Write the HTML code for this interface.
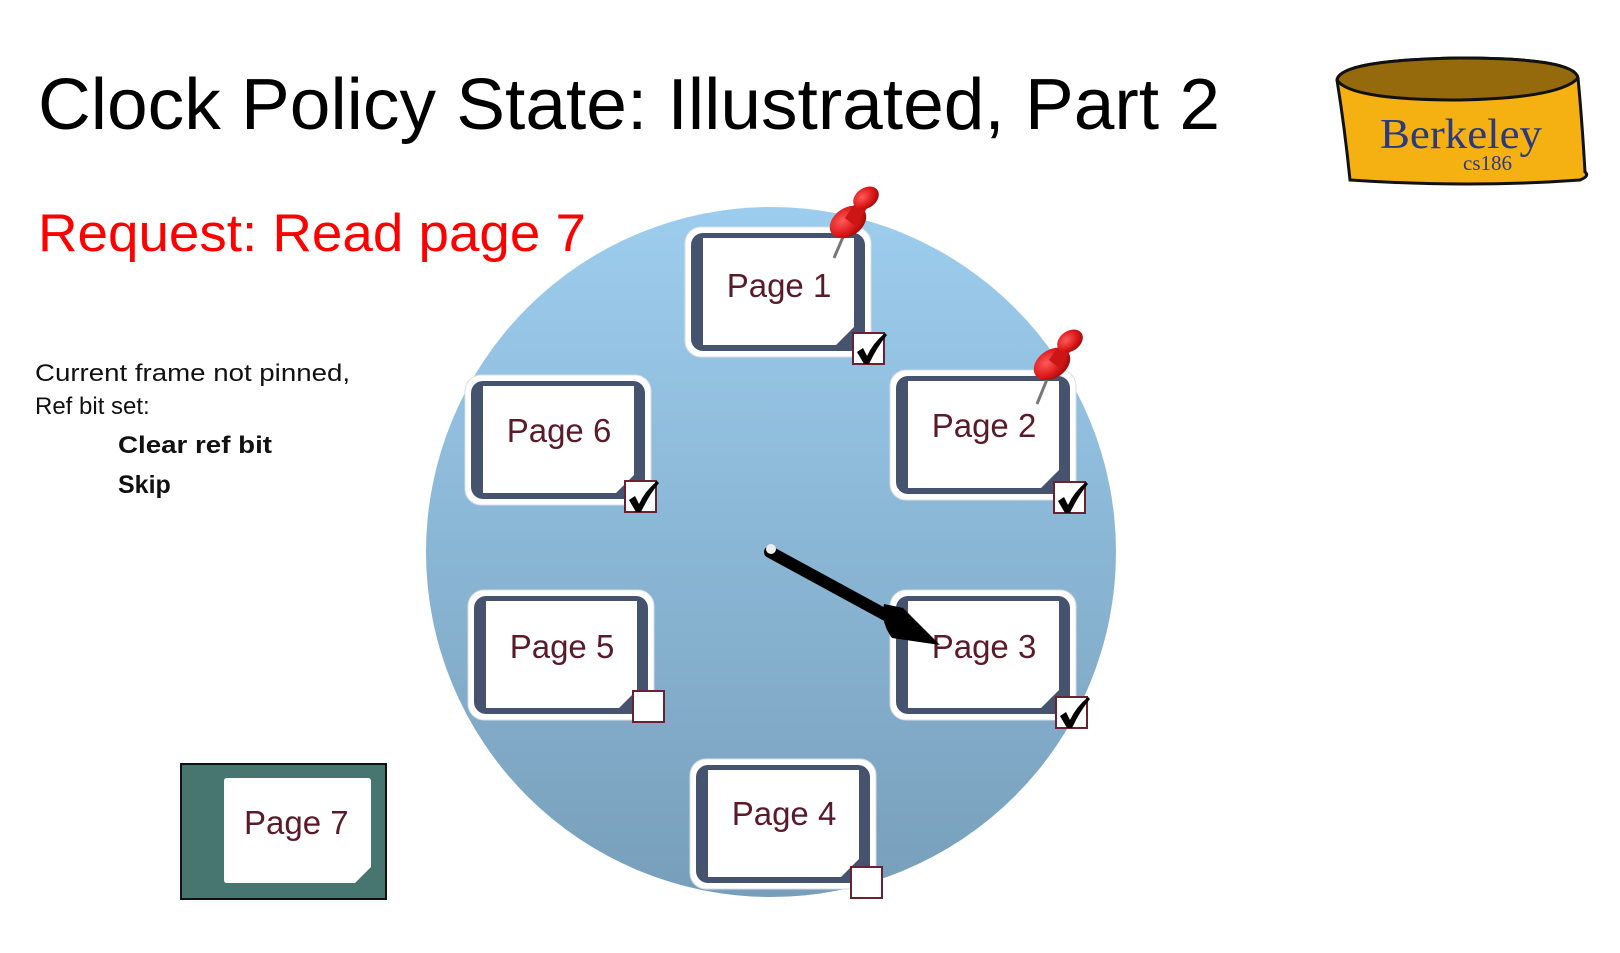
<!DOCTYPE html>
<html><head><meta charset="utf-8"><style>
html,body{margin:0;padding:0;background:#fff;}
svg{display:block;}
</style></head><body>
<svg width="1620" height="953" viewBox="0 0 1620 953" xmlns="http://www.w3.org/2000/svg">
<defs>
<linearGradient id="cg" x1="0" y1="0" x2="0" y2="1">
<stop offset="0" stop-color="#9dcdee"/><stop offset="1" stop-color="#779fbb"/>
</linearGradient>
<radialGradient id="pg" cx="0.4" cy="0.35" r="0.7">
<stop offset="0" stop-color="#ff5a5a"/><stop offset="0.6" stop-color="#dd1a1a"/><stop offset="1" stop-color="#9a0a0a"/>
</radialGradient>
<g id="card">
<rect x="0" y="0" width="186" height="130" rx="16" fill="#fff" stroke="#d8dde4" stroke-width="1"/>
<rect x="6" y="6" width="174" height="118" rx="12" fill="#45536f"/>
<path d="M18 11 H169 V100 L151 118 H18 Z" fill="#fff"/>
</g>
<g id="cbx"><rect x="0" y="0" width="31" height="31" fill="#fff" stroke="#6b2130" stroke-width="2"/></g>
<g id="chk"><path d="M4 17 L10 13 L14 21 Q20 8 32 -2 L34 0 Q24 12 16 29 L11 29 Z" fill="#000"/></g>
</defs>

<text x="38" y="129" font-family="Liberation Sans, sans-serif" font-size="72" fill="#000" textLength="1182" lengthAdjust="spacingAndGlyphs">Clock Policy State: Illustrated, Part 2</text>
<text x="38" y="251" font-family="Liberation Sans, sans-serif" font-size="53" fill="#f00" textLength="548" lengthAdjust="spacingAndGlyphs">Request: Read page 7</text>

<g font-family="Liberation Sans, sans-serif" font-size="24" fill="#111">
<text x="35" y="381" textLength="315" lengthAdjust="spacingAndGlyphs">Current frame not pinned,</text>
<text x="35" y="414">Ref bit set:</text>
<text x="118" y="453" font-weight="bold" textLength="154" lengthAdjust="spacingAndGlyphs">Clear ref bit</text>
<text x="118" y="493" font-weight="bold" font-size="25">Skip</text>
</g>

<!-- logo -->
<g>
<path d="M1337 80 Q1340 60 1460 58 Q1575 58 1578 78 Q1582 120 1585 172 Q1590 176 1580 180 Q1470 188 1350 180 Q1345 130 1337 80 Z" fill="#f5b112" stroke="#111" stroke-width="3"/>
<path d="M1337 80 Q1340 60 1460 58 Q1575 58 1578 78 Q1560 98 1460 100 Q1350 100 1337 80 Z" fill="#956a0c" stroke="#111" stroke-width="3"/>
<text x="1380" y="148" font-family="Liberation Serif, serif" font-size="42" fill="#2b3a80" textLength="162" lengthAdjust="spacingAndGlyphs">Berkeley</text>
<text x="1463" y="170" font-family="Liberation Serif, serif" font-size="21" fill="#2b3a80">cs186</text>
</g>

<circle cx="771" cy="552" r="345" fill="url(#cg)"/>

<g font-family="Liberation Sans, sans-serif" font-size="33" fill="#5a1a2a" text-anchor="middle">
<use href="#card" x="685" y="227"/><text x="779" y="297">Page 1</text>
<use href="#card" x="890" y="370"/><text x="984" y="437">Page 2</text>
<use href="#card" x="465" y="375"/><text x="559" y="442">Page 6</text>
<use href="#card" x="468" y="590"/><text x="562" y="658">Page 5</text>
<use href="#card" x="890" y="590"/><text x="984" y="658">Page 3</text>
<use href="#card" x="690" y="759"/><text x="784" y="825">Page 4</text>
</g>

<use href="#cbx" x="853" y="333"/><use href="#chk" x="853" y="335"/>
<use href="#cbx" x="625" y="481"/><use href="#chk" x="625" y="483"/>
<use href="#cbx" x="1054" y="482"/><use href="#chk" x="1054" y="484"/>
<use href="#cbx" x="1056" y="697"/><use href="#chk" x="1056" y="699"/>
<use href="#cbx" x="633" y="691"/>
<use href="#cbx" x="851" y="867"/>

<!-- pins -->
<g>
<line x1="846" y1="230" x2="834" y2="258" stroke="#777" stroke-width="3"/>
<ellipse cx="848" cy="222" rx="20" ry="14" transform="rotate(-35 848 222)" fill="url(#pg)"/>
<path d="M845 218 L860 196 L870 204 L855 226 Z" fill="#cc1515"/>
<ellipse cx="866" cy="198" rx="14" ry="10" transform="rotate(-35 866 198)" fill="url(#pg)"/>
</g>
<g>
<line x1="1050" y1="372" x2="1037" y2="404" stroke="#777" stroke-width="3"/>
<ellipse cx="1052" cy="364" rx="20" ry="14" transform="rotate(-35 1052 364)" fill="url(#pg)"/>
<path d="M1049 360 L1064 338 L1074 346 L1059 368 Z" fill="#cc1515"/>
<ellipse cx="1070" cy="341" rx="14" ry="10" transform="rotate(-35 1070 341)" fill="url(#pg)"/>
</g>

<!-- clock hand -->
<line x1="770" y1="552" x2="895" y2="620" stroke="#000" stroke-width="12" stroke-linecap="round"/>
<circle cx="771" cy="549" r="5" fill="#eee"/>
<path d="M884 604 L903 608 L940 645 L892 638 Q880 622 884 604 Z" fill="#000"/>

<!-- page 7 -->
<rect x="181" y="764" width="205" height="135" fill="#477570" stroke="#111" stroke-width="2"/>
<path d="M227 778 Q224 778 224 781 V880 Q224 883 227 883 H355 L371 867 V781 Q371 778 368 778 Z" fill="#fff"/>
<text x="244" y="834" font-family="Liberation Sans, sans-serif" font-size="33" fill="#5a1a2a">Page 7</text>
</svg>
</body></html>
